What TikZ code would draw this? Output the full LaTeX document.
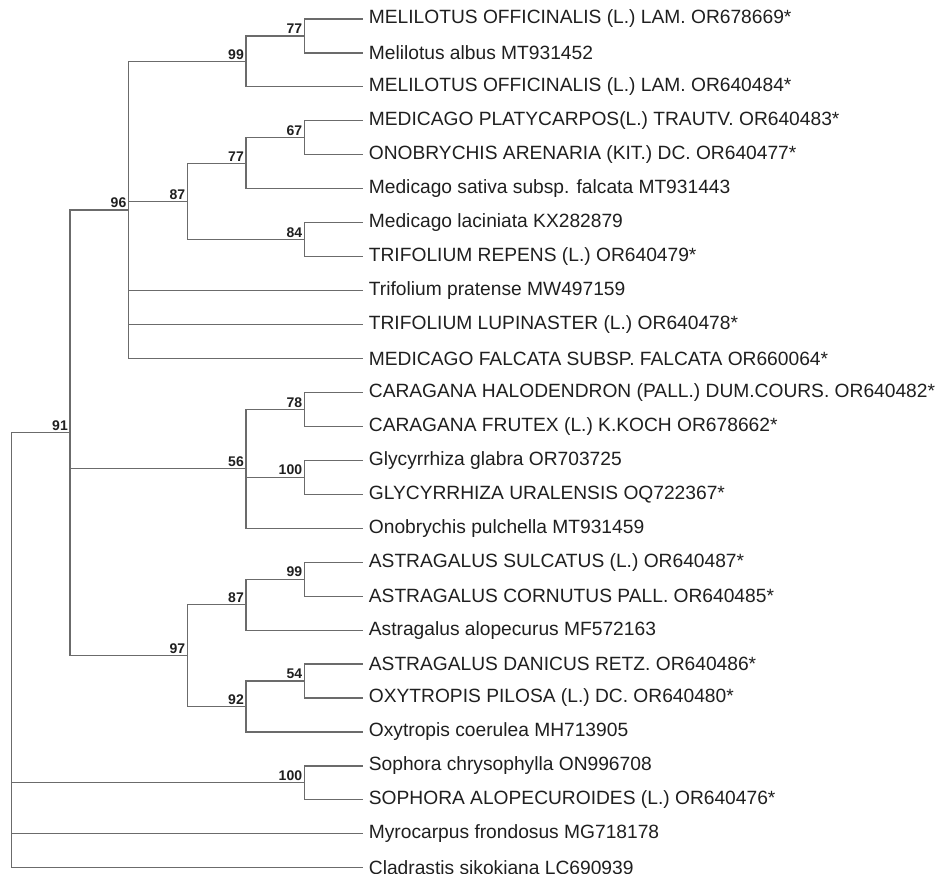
\documentclass[tikz,border=0pt]{standalone}
\usepackage{fontspec}
\setmainfont{Liberation Sans}
\usetikzlibrary{positioning}

\begin{document}
\begin{tikzpicture}[x=1pt,y=-1pt]
\tikzset{
  leafnode/.style={anchor=west,inner sep=6pt,text=black!88,font=\fontsize{19.2}{22}\selectfont},
  bootlabel/.style={anchor=south east,inner sep=2pt,text=black!88,font=\bfseries\fontsize{14}{15}\selectfont},
  branch/.style={draw=black!58,line width=1.2pt}
}
\useasboundingbox (0,0) rectangle (943,874);
% leaves
\node[leafnode] (l_1) at (362.7,19.00) {MELILOTUS OFFICINALIS (L.) LAM. OR678669*};
\node[leafnode] (l_2) at (362.7,52.95) {Melilotus albus MT931452};
\node[leafnode] (l_3) at (362.7,86.90) {MELILOTUS OFFICINALIS (L.) LAM. OR640484*};
\node[leafnode] (l_4) at (362.7,120.85) {MEDICAGO PLATYCARPOS(L.) TRAUTV. OR640483*};
\node[leafnode] (l_5) at (362.7,154.80) {ONOBRYCHIS ARENARIA (KIT.) DC. OR640477*};
\node[leafnode] (l_6) at (362.7,188.75) {Medicago sativa subsp. falcata MT931443};
\node[leafnode] (l_7) at (362.7,222.70) {Medicago laciniata KX282879};
\node[leafnode] (l_8) at (362.7,256.65) {TRIFOLIUM REPENS (L.) OR640479*};
\node[leafnode] (l_9) at (362.7,290.60) {Trifolium pratense MW497159};
\node[leafnode] (l_10) at (362.7,324.55) {TRIFOLIUM LUPINASTER (L.) OR640478*};
\node[leafnode] (l_11) at (362.7,358.50) {MEDICAGO FALCATA SUBSP. FALCATA OR660064*};
\node[leafnode] (l_12) at (362.7,392.45) {CARAGANA HALODENDRON (PALL.) DUM.COURS. OR640482*};
\node[leafnode] (l_13) at (362.7,426.40) {CARAGANA FRUTEX (L.) K.KOCH OR678662*};
\node[leafnode] (l_14) at (362.7,460.35) {Glycyrrhiza glabra OR703725};
\node[leafnode] (l_15) at (362.7,494.30) {GLYCYRRHIZA URALENSIS OQ722367*};
\node[leafnode] (l_16) at (362.7,528.25) {Onobrychis pulchella MT931459};
\node[leafnode] (l_17) at (362.7,562.20) {ASTRAGALUS SULCATUS (L.) OR640487*};
\node[leafnode] (l_18) at (362.7,596.15) {ASTRAGALUS CORNUTUS PALL. OR640485*};
\node[leafnode] (l_19) at (362.7,630.10) {Astragalus alopecurus MF572163};
\node[leafnode] (l_20) at (362.7,664.05) {ASTRAGALUS DANICUS RETZ. OR640486*};
\node[leafnode] (l_21) at (362.7,698.00) {OXYTROPIS PILOSA (L.) DC. OR640480*};
\node[leafnode] (l_22) at (362.7,731.95) {Oxytropis coerulea MH713905};
\node[leafnode] (l_23) at (362.7,765.90) {Sophora chrysophylla ON996708};
\node[leafnode] (l_24) at (362.7,799.85) {SOPHORA ALOPECUROIDES (L.) OR640476*};
\node[leafnode] (l_25) at (362.7,833.80) {Myrocarpus frondosus MG718178};
\node[leafnode] (l_26) at (362.7,867.75) {Cladrastis sikokiana LC690939};
% internal nodes
\coordinate (c_root) at (11.7,650.26);
\coordinate (c_91) at (70.0,432.77);
\coordinate (c_96) at (128.5,209.97);
\coordinate (c_99a) at (246.0,61.44);
\coordinate (c_77a) at (304.3,35.98);
\coordinate (c_87a) at (187.3,201.48);
\coordinate (c_77b) at (246.0,163.29);
\coordinate (c_67) at (304.3,137.83);
\coordinate (c_84) at (304.3,239.68);
\coordinate (c_56) at (246.0,468.84);
\coordinate (c_78) at (304.3,409.43);
\coordinate (c_100a) at (304.3,477.33);
\coordinate (c_97) at (187.3,655.57);
\coordinate (c_87b) at (246.0,604.64);
\coordinate (c_99b) at (304.3,579.18);
\coordinate (c_92) at (246.0,706.49);
\coordinate (c_54) at (304.3,681.03);
\coordinate (c_100b) at (304.3,782.88);
% branches
\draw[branch] (c_root) |- (c_91);
\draw[branch] (c_root) |- (c_100b);
\draw[branch] (c_root) |- (l_25.west);
\draw[branch] (c_root) |- (l_26.west);
\draw[branch] (c_91) |- (c_96);
\draw[branch] (c_91) |- (c_56);
\draw[branch] (c_91) |- (c_97);
\draw[branch] (c_96) |- (c_99a);
\draw[branch] (c_96) |- (c_87a);
\draw[branch] (c_96) |- (l_9.west);
\draw[branch] (c_96) |- (l_10.west);
\draw[branch] (c_96) |- (l_11.west);
\draw[branch] (c_99a) |- (c_77a);
\draw[branch] (c_99a) |- (l_3.west);
\draw[branch] (c_77a) |- (l_1.west);
\draw[branch] (c_77a) |- (l_2.west);
\draw[branch] (c_87a) |- (c_77b);
\draw[branch] (c_87a) |- (c_84);
\draw[branch] (c_77b) |- (c_67);
\draw[branch] (c_77b) |- (l_6.west);
\draw[branch] (c_67) |- (l_4.west);
\draw[branch] (c_67) |- (l_5.west);
\draw[branch] (c_84) |- (l_7.west);
\draw[branch] (c_84) |- (l_8.west);
\draw[branch] (c_56) |- (c_78);
\draw[branch] (c_56) |- (c_100a);
\draw[branch] (c_56) |- (l_16.west);
\draw[branch] (c_78) |- (l_12.west);
\draw[branch] (c_78) |- (l_13.west);
\draw[branch] (c_100a) |- (l_14.west);
\draw[branch] (c_100a) |- (l_15.west);
\draw[branch] (c_97) |- (c_87b);
\draw[branch] (c_97) |- (c_92);
\draw[branch] (c_87b) |- (c_99b);
\draw[branch] (c_87b) |- (l_19.west);
\draw[branch] (c_99b) |- (l_17.west);
\draw[branch] (c_99b) |- (l_18.west);
\draw[branch] (c_92) |- (c_54);
\draw[branch] (c_92) |- (l_22.west);
\draw[branch] (c_54) |- (l_20.west);
\draw[branch] (c_54) |- (l_21.west);
\draw[branch] (c_100b) |- (l_23.west);
\draw[branch] (c_100b) |- (l_24.west);
% bootstrap values
\node[bootlabel] (b_91) at (c_91) {91};
\node[bootlabel] (b_96) at (c_96) {96};
\node[bootlabel] (b_99a) at (c_99a) {99};
\node[bootlabel] (b_77a) at (c_77a) {77};
\node[bootlabel] (b_87a) at (c_87a) {87};
\node[bootlabel] (b_77b) at (c_77b) {77};
\node[bootlabel] (b_67) at (c_67) {67};
\node[bootlabel] (b_84) at (c_84) {84};
\node[bootlabel] (b_56) at (c_56) {56};
\node[bootlabel] (b_78) at (c_78) {78};
\node[bootlabel] (b_100a) at (c_100a) {100};
\node[bootlabel] (b_97) at (c_97) {97};
\node[bootlabel] (b_87b) at (c_87b) {87};
\node[bootlabel] (b_99b) at (c_99b) {99};
\node[bootlabel] (b_92) at (c_92) {92};
\node[bootlabel] (b_54) at (c_54) {54};
\node[bootlabel] (b_100b) at (c_100b) {100};
\end{tikzpicture}
\end{document}
